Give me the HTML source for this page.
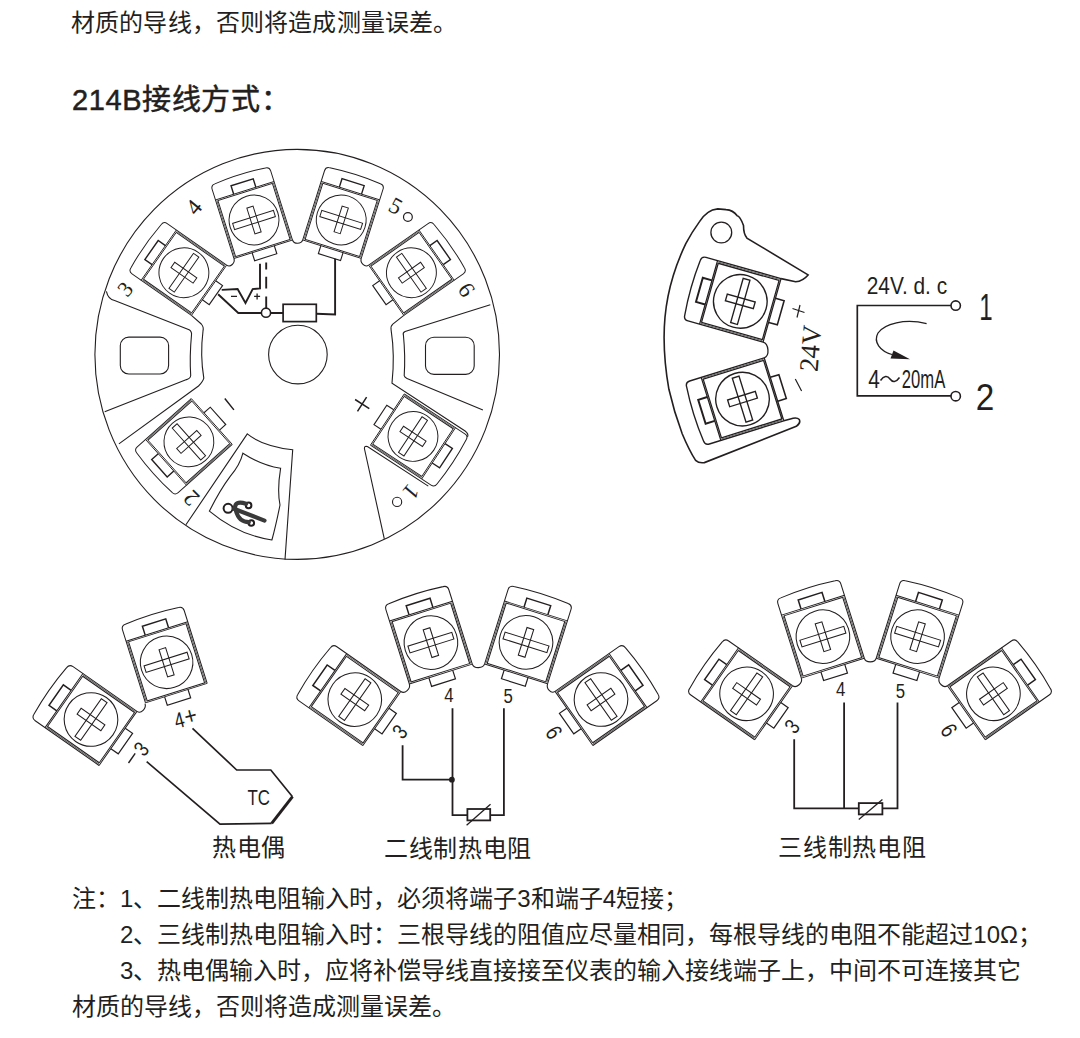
<!DOCTYPE html>
<html lang="zh-CN"><head><meta charset="utf-8">
<style>
html,body{margin:0;padding:0;background:#fff;}
body{width:1080px;height:1038px;position:relative;overflow:hidden;font-family:"Liberation Sans",sans-serif;color:#231f20;}
.t{position:absolute;white-space:nowrap;font-size:24px;line-height:1;}
.s{position:absolute;white-space:nowrap;line-height:1;font-family:"Liberation Sans",sans-serif;}
</style></head><body>
<div class="t" style="left:71px;top:11px;letter-spacing:0.15px">材质的导线，否则将造成测量误差。</div>
<div class="t" style="left:72px;top:86px;font-size:29px;letter-spacing:0.6px;-webkit-text-stroke:0.5px #231f20;">214B接线方式：</div>
<svg width="1080" height="1038" viewBox="0 0 1080 1038" style="position:absolute;left:0;top:0" fill="none" stroke="#231f20" stroke-width="1.1">
<defs><g id="tb" fill="none" stroke="#231f20" stroke-width="1.05">
<path d="M-33,33 V-45 Q-33,-49.5 -28.5,-49.7 Q0,-52.5 28.5,-49.7 Q33,-49.5 33,-45 V33"/>
<path d="M-30.7,-31.6 V31.6 M30.7,-31.6 V31.6" stroke-width="1.05"/><path d="M-31.85,-32 V32 M31.85,-32 V32" stroke-width="1.1" stroke="#666"/>
<path d="M-33,-33 H33 M-31,-31.6 H31 M-33,33 H33 M-31,31.6 H31" stroke-width="0.95"/>
<path d="M-12.5,-33 V-42.5 H12.5 V-33" stroke-width="1.5"/><path d="M-12.5,33 V42 H12.5 V33" stroke-width="1.2"/>
<circle r="26.8"/>
<rect x="-23" y="-3.5" width="46" height="7"/>
<rect x="-3.5" y="-14.5" width="7" height="29"/>
</g><g id="tbb" fill="none" stroke="#231f20" stroke-width="1.37">
<path d="M-33,33 V-45 Q-33,-49.5 -28.5,-49.7 Q0,-52.5 28.5,-49.7 Q33,-49.5 33,-45 V33"/>
<path d="M-30.7,-31.6 V31.6 M30.7,-31.6 V31.6" stroke-width="1.37"/><path d="M-31.85,-32 V32 M31.85,-32 V32" stroke-width="1.1" stroke="#666"/>
<path d="M-33,-33 H33 M-31,-31.6 H31 M-33,33 H33 M-31,31.6 H31" stroke-width="1.23"/>
<path d="M-12.5,-33 V-42.5 H12.5 V-33" stroke-width="1.95"/><path d="M-12.5,33 V42 H12.5 V33" stroke-width="1.56"/>
<circle r="26.8"/>
<rect x="-23" y="-3.5" width="46" height="7"/>
<rect x="-3.5" y="-14.5" width="7" height="29"/>
</g></defs>
<ellipse cx="297.2" cy="354.4" rx="202.3" ry="205"/>
<use href="#tb" transform="translate(183.9 272.7) rotate(-55) scale(0.93)"/>
<use href="#tb" transform="translate(254 220) rotate(-17.5) scale(0.93)"/>
<use href="#tb" transform="translate(341.2 219.9) rotate(17.5) scale(0.93)"/>
<use href="#tb" transform="translate(411.4 272.7) rotate(55) scale(0.93)"/>
<use href="#tb" transform="translate(188.9 441.9) rotate(-131.8) scale(0.93)"/>
<use href="#tb" transform="translate(413 436.4) rotate(123.4) scale(0.93)"/>
<path d="M292.5,240.04 L292.5,240.04 C293.9,244.48 301.3,244.38 302.7,239.94 L302.7,239.94"/>
<path d="M226.64,265.16 L226.64,265.16 C230.45,267.83 235.36,262.93 233.96,258.5 L233.96,258.5"/>
<path d="M361.24,258.4 L361.24,258.4 C359.84,262.83 364.85,267.83 368.66,265.16 L368.66,265.16"/>
<circle cx="297.9" cy="354.6" r="29.3"/>
<path d="M106.4,291.3 Q108,299 114.6,300.5 L189.1,329.8 Q192,331.5 191.5,335 Q189.5,356 190.7,375.5 Q190.5,378.5 186.6,379.6 L104.7,411.8"/>
<path d="M191.44,315.44 L201.3,324 Q204,327 203,331 Q200,355 203.8,378.1 Q203,381.5 198.5,386 L118.9,443.9"/>
<rect x="120.3" y="337.1" width="48.3" height="36.9" rx="8.5"/>
<path d="M490.3,304.7 L405.1,331.4 Q402.5,332.5 403.4,335 Q405.5,356 404.2,375.7 Q404.5,377.5 407,378.5 L482.9,410.1"/>
<path d="M403.86,315.44 L392.8,324.1 Q390.5,326 391.1,329.8 Q395,355 392,383.1 L465.1,431 Q469,434 467.5,437"/>
<rect x="425.5" y="337.2" width="48.7" height="37.2" rx="8.5"/>
<path d="M428.3,486.1 L367.4,446.6 Q364,445.5 364.5,449 L384.3,538.8"/>
<path d="M185.9,524.8 L247.3,433.9 Q262,446 292.7,449.8 L285,559.6"/>
<path d="M242.9,453.2 Q261,465 280.6,468.3 Q277,490 280,505 Q276,525 271.9,540 Q238,535 209.4,511.1 Q220,490 230.2,476.4 Q240,465 242.9,453.2 Z"/>
<g stroke-width="1.9">
<path d="M221.7,289.9 L237.6,289.1 L245.5,302.9 L252.7,289.1 L260,288.4 V263.8"/>
<path d="M266.2,262.4 V269.6 M266.2,276.8 V288.4 M266.2,296.4 V307.9"/>
<path d="M218.1,294.2 L238.3,313 L261.4,313 M270.6,313 H283.1 M316.3,313.8 L335.1,314.4 V258.8"/>
<circle cx="266" cy="312.7" r="4.6" stroke-width="1.6"/>
<rect x="283.1" y="304.3" width="33.2" height="17.3" stroke-width="1.7"/>
</g>
<path d="M231,296.4 H237 M254.1,296.4 H260.1 M257.1,293.4 V299.4" stroke-width="1.3"/>
<path d="M224.8,398.5 L233.9,409.9 M355.1,399.5 L369.3,408.6 M366.6,397.1 L357.5,411.3" stroke-width="1.5"/>
<use href="#tbb" transform="translate(740.3 301.4) rotate(-74.2) scale(1)"/>
<use href="#tbb" transform="translate(742.5 399.1) rotate(-107.3) scale(1)"/>
<circle cx="721.3" cy="232.5" r="10.4" stroke-width="1.3"/>
<path stroke-width="1.6" d="M781.04,278.63 L795.6,281.8 Q803,281 808.1,274.9 L746.9,238.1 Q743.5,234 743.5,225.6 Q740,216 737.2,215.8 Q733,210 726.1,209.6 L717.8,208.9 Q712,209.5 708.1,212.4 Q703,216 699.7,221.4 Q692,232 685.8,243.6 Q678,260 673.3,275.6 Q667,296 665,317.2 Q662,350 668.9,389.3 Q674,412 682.2,433.7 Q689,450 695.6,460.4 Q699,463.5 704.4,462.6 L796.3,426.3 Q801,423 799.3,419.5 Q797,417 790.4,418.9 L783.82,420.79"/>
<path stroke-width="1.3" d="M763.07,342.14 C768.84,343.77 769.92,356 764.19,357.78" />
<path stroke-width="1.7" d="M951,305.5 H857.3 V395.8 H951"/>
<circle cx="955.7" cy="305.6" r="4.7" stroke-width="1.6"/><circle cx="955.7" cy="396.2" r="4.7" stroke-width="1.6"/>
<path stroke-width="1.3" d="M926.6,323.7 C905,318 884,324 878,333 C873,342 880,351 892,354.5"/>
<path fill="#231f20" stroke="none" d="M910,359.2 L893.5,350.5 L890.5,358.6 Z"/>
<use href="#tb" transform="translate(91 719.5) rotate(-55) scale(1)"/>
<use href="#tb" transform="translate(166.6 662.3) rotate(-17.5) scale(0.98)"/>
<path d="M136.96,711.4 L136.96,711.4 C141.06,714.26 146.55,708.46 145.05,703.7 L145.05,703.7"/>
<g stroke-width="1.7"><path d="M192.5,728.3 L236.7,770 H270.8 L292.5,796.7 M271.7,823.3 L220,824.2 L146.7,761.7"/><path d="M292.5,796.7 L271.7,823.3" stroke-width="3"/></g>
<use href="#tb" transform="translate(354.8 699.6) rotate(-55) scale(1)"/>
<use href="#tb" transform="translate(430.9 642.6) rotate(-17.5) scale(1)"/>
<use href="#tb" transform="translate(526 642.4) rotate(17.5) scale(1)"/>
<use href="#tb" transform="translate(601 699.5) rotate(55) scale(1)"/>
<path d="M400.76,691.5 L400.76,691.5 C404.86,694.36 410.85,688.76 409.35,684 L409.35,684"/>
<path d="M472.3,664.15 L472.3,664.15 C473.8,668.92 483.1,668.72 484.6,663.95 L484.6,663.95"/>
<path d="M547.55,683.8 L547.55,683.8 C546.05,688.56 550.94,694.26 555.04,691.4 L555.04,691.4"/>
<g stroke-width="1.8"><path d="M402.6,745.3 V779.7 H452.2 M452.5,708.2 V815.1 H467.4 M490.2,815.1 H503.9 V708.2"/><rect x="467.4" y="809" width="22.8" height="11.4"/><path d="M466.6,825.2 L490.5,804.3" stroke-width="1.3"/></g>
<circle cx="451.9" cy="779.7" r="2.9" fill="#231f20" stroke="none"/>
<use href="#tb" transform="translate(746.6 693.8) rotate(-55) scale(1)"/>
<use href="#tb" transform="translate(822.9 636.7) rotate(-17.5) scale(1)"/>
<use href="#tb" transform="translate(917.6 636.7) rotate(17.5) scale(1)"/>
<use href="#tb" transform="translate(993.4 693.8) rotate(55) scale(1)"/>
<path d="M792.56,685.7 L792.56,685.7 C796.66,688.56 802.85,682.86 801.35,678.1 L801.35,678.1"/>
<path d="M864.3,658.25 L864.3,658.25 C865.8,663.02 874.7,663.02 876.2,658.25 L876.2,658.25"/>
<path d="M939.15,678.1 L939.15,678.1 C937.65,682.86 943.34,688.56 947.44,685.7 L947.44,685.7"/>
<g stroke-width="1.8"><path d="M794.2,739.2 V808.3 H858.8 M844.1,702.4 V808.3 M882.4,808.3 H897.5 V702.4"/><rect x="858.8" y="803.1" width="23.6" height="11.3"/><path d="M858.8,819.4 L882.4,799.6" stroke-width="1.3"/></g>
<text x="0" y="0" transform="translate(125 289) rotate(-50) scale(1 1)" font-family="Liberation Serif" font-size="22" text-anchor="middle" dominant-baseline="central" fill="#231f20" stroke="none">3</text>
<text x="0" y="0" transform="translate(194 207.2) rotate(-50) scale(1 1)" font-family="Liberation Serif" font-size="23" text-anchor="middle" dominant-baseline="central" fill="#231f20" stroke="none">4</text>
<text x="0" y="0" transform="translate(395.5 206) rotate(28) scale(1 1)" font-family="Liberation Serif" font-size="23" text-anchor="middle" dominant-baseline="central" fill="#231f20" stroke="none">5</text>
<circle cx="407.9" cy="217" r="4.4" stroke-width="1.2"/>
<text x="0" y="0" transform="translate(466.4 289.9) rotate(56) scale(1 1)" font-family="Liberation Serif" font-size="23" text-anchor="middle" dominant-baseline="central" fill="#231f20" stroke="none">6</text>
<text x="0" y="0" transform="translate(411 491.8) rotate(130) scale(1 1)" font-family="Liberation Serif" font-size="23" text-anchor="middle" dominant-baseline="central" fill="#231f20" stroke="none">1</text>
<circle cx="397.1" cy="501.9" r="4.6" stroke-width="1.1"/>
<text x="0" y="0" transform="translate(191.3 498.1) rotate(-135) scale(1 1)" font-family="Liberation Serif" font-size="23" text-anchor="middle" dominant-baseline="central" fill="#231f20" stroke="none">2</text>
<text x="0" y="0" transform="translate(810.5 348.4) rotate(-85) scale(1 1)" font-family="Liberation Serif" font-size="27" text-anchor="middle" dominant-baseline="central" fill="#231f20" stroke="none">24V</text>
<path d="M792.5,308.5 L804.5,312.5 M800,305 L797,317.5 M795.3,379 L801.6,391" stroke-width="1.2"/>
<text x="0" y="0" transform="translate(906.9 293.8) rotate(0) scale(0.87 1)" font-family="Liberation Sans" font-size="24" text-anchor="middle" dominant-baseline="alphabetic" fill="#231f20" stroke="none">24V.&#160;d.&#160;c</text>
<text x="0" y="0" transform="translate(874 387.5) rotate(0) scale(0.8 1)" font-family="Liberation Sans" font-size="26" text-anchor="middle" dominant-baseline="alphabetic" fill="#231f20" stroke="none">4</text>
<path d="M880.5,380.5 C884,375.5 887.5,375.5 890,379 C892.5,382.5 896,382.5 899.5,377.5" stroke-width="1.5"/>
<text x="0" y="0" transform="translate(923.5 387.5) rotate(0) scale(0.64 1)" font-family="Liberation Sans" font-size="26" text-anchor="middle" dominant-baseline="alphabetic" fill="#231f20" stroke="none">20mA</text>
<text x="0" y="0" transform="translate(986 319.8) rotate(0) scale(0.65 1)" font-family="Liberation Sans" font-size="37" text-anchor="middle" dominant-baseline="alphabetic" fill="#231f20" stroke="none">1</text>
<text x="0" y="0" transform="translate(984.9 410.3) rotate(0) scale(0.9 1)" font-family="Liberation Sans" font-size="37" text-anchor="middle" dominant-baseline="alphabetic" fill="#231f20" stroke="none">2</text>
<text x="0" y="0" transform="translate(258.7 805) rotate(0) scale(0.75 1)" font-family="Liberation Sans" font-size="22.5" text-anchor="middle" dominant-baseline="alphabetic" fill="#231f20" stroke="none">TC</text>
<text x="0" y="0" transform="translate(179.3 720) rotate(-15) scale(0.8 1)" font-family="Liberation Sans" font-size="22" text-anchor="middle" dominant-baseline="central" fill="#231f20" stroke="none">4</text>
<text x="0" y="0" transform="translate(190.4 715.5) rotate(-15) scale(0.9 1)" font-family="Liberation Sans" font-size="24" text-anchor="middle" dominant-baseline="central" fill="#231f20" stroke="none">+</text>
<text x="0" y="0" transform="translate(141.1 748.9) rotate(-50) scale(0.8 1)" font-family="Liberation Sans" font-size="22" text-anchor="middle" dominant-baseline="central" fill="#231f20" stroke="none">3</text>
<path d="M128.5,763 L135.2,753.3" stroke-width="1.4"/>
<text x="0" y="0" transform="translate(448.8 694.9) rotate(0) scale(0.8 1)" font-family="Liberation Sans" font-size="21" text-anchor="middle" dominant-baseline="central" fill="#231f20" stroke="none">4</text>
<text x="0" y="0" transform="translate(508.2 695.4) rotate(0) scale(0.8 1)" font-family="Liberation Sans" font-size="21" text-anchor="middle" dominant-baseline="central" fill="#231f20" stroke="none">5</text>
<text x="0" y="0" transform="translate(399.7 731.5) rotate(-50) scale(0.8 1)" font-family="Liberation Sans" font-size="22" text-anchor="middle" dominant-baseline="central" fill="#231f20" stroke="none">3</text>
<text x="0" y="0" transform="translate(554.2 732.3) rotate(58) scale(0.8 1)" font-family="Liberation Sans" font-size="23" text-anchor="middle" dominant-baseline="central" fill="#231f20" stroke="none">6</text>
<text x="0" y="0" transform="translate(840.75 688.7) rotate(0) scale(0.8 1)" font-family="Liberation Sans" font-size="21" text-anchor="middle" dominant-baseline="central" fill="#231f20" stroke="none">4</text>
<text x="0" y="0" transform="translate(900.5 690.5) rotate(0) scale(0.8 1)" font-family="Liberation Sans" font-size="21" text-anchor="middle" dominant-baseline="central" fill="#231f20" stroke="none">5</text>
<text x="0" y="0" transform="translate(792 726.3) rotate(-50) scale(0.8 1)" font-family="Liberation Sans" font-size="22" text-anchor="middle" dominant-baseline="central" fill="#231f20" stroke="none">3</text>
<text x="0" y="0" transform="translate(949.2 730) rotate(58) scale(0.8 1)" font-family="Liberation Sans" font-size="23" text-anchor="middle" dominant-baseline="central" fill="#231f20" stroke="none">6</text>
<g stroke-width="2"><circle cx="228.1" cy="508.3" r="4.5"/><circle cx="248.6" cy="505.4" r="2.8"/><circle cx="251.3" cy="523" r="2.8"/></g>
<g stroke="#3a3a3a" stroke-width="4.2" stroke-linecap="round"><path d="M234,508.8 L264.5,520.6"/><path d="M235,509 Q234.5,500 246,503.8"/><path d="M236,511 Q239,522 248.8,522.2"/></g>
</svg>
<div class="t" style="left:212px;top:836px;letter-spacing:0.5px">热电偶</div>
<div class="t" style="left:384px;top:837px;letter-spacing:0.7px">二线制热电阻</div>
<div class="t" style="left:778px;top:836px;letter-spacing:0.8px">三线制热电阻</div>
<div class="t" style="left:72px;top:887px;">注：1、二线制热电阻输入时，必须将端子3和端子4短接；</div>
<div class="t" style="left:120px;top:922.5px;">2、三线制热电阻输入时：三根导线的阻值应尽量相同，每根导线的电阻不能超过10Ω；</div>
<div class="t" style="left:120px;top:958.5px;">3、热电偶输入时，应将补偿导线直接接至仪表的输入接线端子上，中间不可连接其它</div>
<div class="t" style="left:72px;top:994.5px;">材质的导线，否则将造成测量误差。</div>
</body></html>
